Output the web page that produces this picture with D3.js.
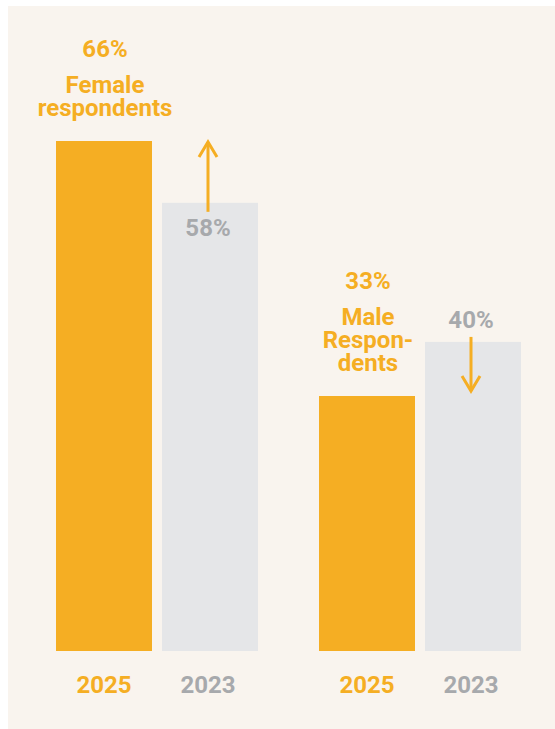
<!DOCTYPE html>
<html>
<head>
<meta charset="utf-8">
<script src="https://cdn.jsdelivr.net/npm/d3@7"></script>
<style>
  html, body { margin: 0; padding: 0; background: #ffffff; }
  svg { display: block; }
</style>
</head>
<body>
<svg id="chart" width="555" height="729"></svg>
<script>
// ---- data ----
const categories = ["Female", "Male"];
const categoryLabels = [["Female", "respondents"], ["Male", "Respon-", "dents"]];
const years = ["2025", "2023"];
const values2025 = [66, 33];
const values2023 = [58, 40];

// ---- styles ----
const orange = "#F5AE23";
const greyBar = "#E5E6E8";
const greyText = "#A7A9AC";
const bg = "#F9F4EE";
const font = "Roboto, 'Noto Sans', sans-serif";

const svg = d3.select("#chart");
svg.append("rect").attr("x", 8).attr("y", 6).attr("width", 547).attr("height", 723).attr("fill", bg);

const baseline = 651;
const y = d3.scaleLinear().domain([0, 66]).range([baseline, 141]);
const x0 = d3.scaleBand().domain(categories).range([56, 521]).paddingInner(61 / 263).paddingOuter(0);
const x1 = d3.scaleBand().domain(years).range([0, x0.bandwidth()]).paddingInner(10 / 106).paddingOuter(0);

const data = categories.map((c, i) => ({
  cat: c, lines: categoryLabels[i],
  vals: [{ year: years[0], v: values2025[i] }, { year: years[1], v: values2023[i] }]
}));

const g = svg.selectAll("g.grp").data(data).enter().append("g")
  .attr("class", "grp").attr("transform", d => `translate(${x0(d.cat)},0)`);

// bars
g.selectAll("rect.bar").data(d => d.vals).enter().append("rect")
  .attr("x", d => x1(d.year)).attr("width", x1.bandwidth())
  .attr("y", d => y(d.v)).attr("height", d => baseline - y(d.v))
  .attr("fill", (d, i) => i === 0 ? orange : greyBar);

// year labels
g.selectAll("text.year").data(d => d.vals).enter().append("text")
  .attr("x", (d, i) => x1(d.year) + x1.bandwidth() / 2 - (i === 1 ? 2 : 0))
  .attr("y", 693)
  .attr("text-anchor", "middle")
  .attr("font-family", font).attr("font-weight", 700).attr("font-size", 24)
  .attr("fill", (d, i) => i === 0 ? orange : greyText)
  .text(d => d.year);

const fs = 24, lh = 23;
g.each(function (d) {
  const gg = d3.select(this);
  const cx = x1(years[0]) + x1.bandwidth() / 2 + 1;
  const top = y(d.vals[0].v);
  const n = d.lines.length;
  const firstBase = top - 25 - (n - 1) * lh;
  // 2025 percentage
  gg.append("text").attr("x", cx).attr("y", firstBase - 36)
    .attr("text-anchor", "middle").attr("font-family", font).attr("font-weight", 700)
    .attr("font-size", fs).attr("fill", orange).text(d.vals[0].v + "%");
  // category label (one text element, one tspan per line)
  const lab = gg.append("text").attr("x", cx).attr("y", firstBase)
    .attr("text-anchor", "middle").attr("font-family", font).attr("font-weight", 700)
    .attr("font-size", fs).attr("fill", orange);
  d.lines.forEach((l, k) => {
    lab.append("tspan").attr("x", cx).attr("y", firstBase + k * lh).text(l);
  });
  // 2023 percentage + arrow
  const ax = x1(years[1]) + x1.bandwidth() / 2 - 2;
  const v25 = d.vals[0].v, v23 = d.vals[1].v;
  const up = v25 > v23;
  const y23 = y(v23), y25 = y(v25);
  gg.append("text").attr("x", ax).attr("y", up ? y23 + 33 : y23 - 14)
    .attr("text-anchor", "middle").attr("font-family", font).attr("font-weight", 700)
    .attr("font-size", fs).attr("fill", greyText).text(v23 + "%");
  let y1, y2;
  if (up) { y1 = y23 + 9; y2 = y25 + 1; }
  else { y1 = y23 - 5; y2 = y25 - 5; }
  const dir = up ? 1 : -1;
  gg.append("line").attr("x1", ax).attr("x2", ax).attr("y1", y1).attr("y2", y2)
    .attr("stroke", orange).attr("stroke-width", 3);
  gg.append("path")
    .attr("d", `M${ax - 9},${y2 + dir * 15}L${ax},${y2}L${ax + 9},${y2 + dir * 15}`)
    .attr("fill", "none").attr("stroke", orange).attr("stroke-width", 3)
    .attr("stroke-linejoin", "miter").attr("stroke-linecap", "butt");
});
</script>
</body>
</html>
